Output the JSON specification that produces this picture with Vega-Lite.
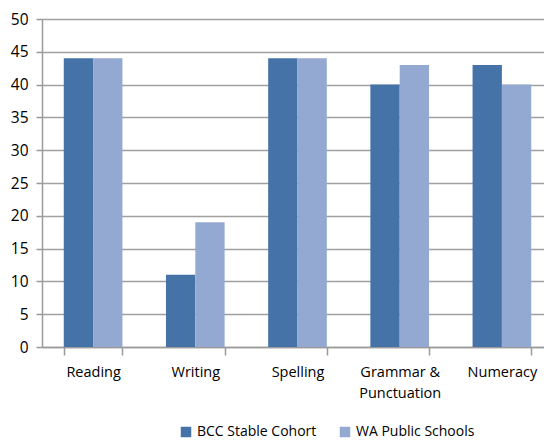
{
  "$schema": "https://vega.github.io/schema/vega-lite/v6.json",
  "width": 502,
  "height": 328,
  "autosize": "none",
  "padding": {"left": 42, "top": 19, "right": 0, "bottom": 94},
  "background": "white",
  "config": {
    "view": {"stroke": null},
    "font": "Open Sans",
    "axis": {"labelFont": "Open Sans", "labelFontSize": 14, "labelColor": "#000000", "domainColor": "#9a9a9a", "tickColor": "#9a9a9a", "gridColor": "#a0a0a0", "domainWidth": 1.5, "tickWidth": 1.5, "gridWidth": 1.6}
  },
  "data": {
    "values": [
      {"cat": "Reading", "series": "BCC Stable Cohort", "value": 44},
      {"cat": "Reading", "series": "WA Public Schools", "value": 44},
      {"cat": "Writing", "series": "BCC Stable Cohort", "value": 11},
      {"cat": "Writing", "series": "WA Public Schools", "value": 19},
      {"cat": "Spelling", "series": "BCC Stable Cohort", "value": 44},
      {"cat": "Spelling", "series": "WA Public Schools", "value": 44},
      {"cat": "Grammar & Punctuation", "series": "BCC Stable Cohort", "value": 40},
      {"cat": "Grammar & Punctuation", "series": "WA Public Schools", "value": 43},
      {"cat": "Numeracy", "series": "BCC Stable Cohort", "value": 43},
      {"cat": "Numeracy", "series": "WA Public Schools", "value": 40}
    ]
  },
  "mark": {"type": "bar"},
  "encoding": {
    "x": {
      "field": "cat",
      "type": "nominal",
      "sort": ["Reading", "Writing", "Spelling", "Grammar & Punctuation", "Numeracy"],
      "scale": {"range": [0, 511], "paddingInner": 0.426, "paddingOuter": 0.213},
      "axis": {
        "title": null,
        "labelAngle": 0,
        "tickBand": "extent",
        "tickSize": 8,
        "labelPadding": 10,
        "labelFontSize": 14.5,
        "labelExpr": "datum.value == 'Grammar & Punctuation' ? ['Grammar &', 'Punctuation'] : datum.value",
        "labelLineHeight": 21
      }
    },
    "xOffset": {"field": "series", "type": "nominal", "scale": {"paddingInner": 0, "paddingOuter": 0}},
    "y": {
      "field": "value",
      "type": "quantitative",
      "scale": {"domain": [0, 50], "nice": false},
      "axis": {"title": null, "values": [0, 5, 10, 15, 20, 25, 30, 35, 40, 45, 50], "tickSize": 6, "labelPadding": 8, "labelFontSize": 15.5, "grid": true}
    },
    "color": {
      "field": "series",
      "type": "nominal",
      "scale": {"domain": ["BCC Stable Cohort", "WA Public Schools"], "range": ["#4573a7", "#94a9d1"]},
      "legend": {
        "title": null,
        "orient": "none",
        "direction": "horizontal",
        "legendX": 137,
        "legendY": 406,
        "symbolType": "square",
        "symbolSize": 110,
        "symbolStrokeWidth": 0,
        "labelFont": "Open Sans",
        "labelFontSize": 14,
        "labelColor": "#000000",
        "columnPadding": 21
      }
    }
  }
}
